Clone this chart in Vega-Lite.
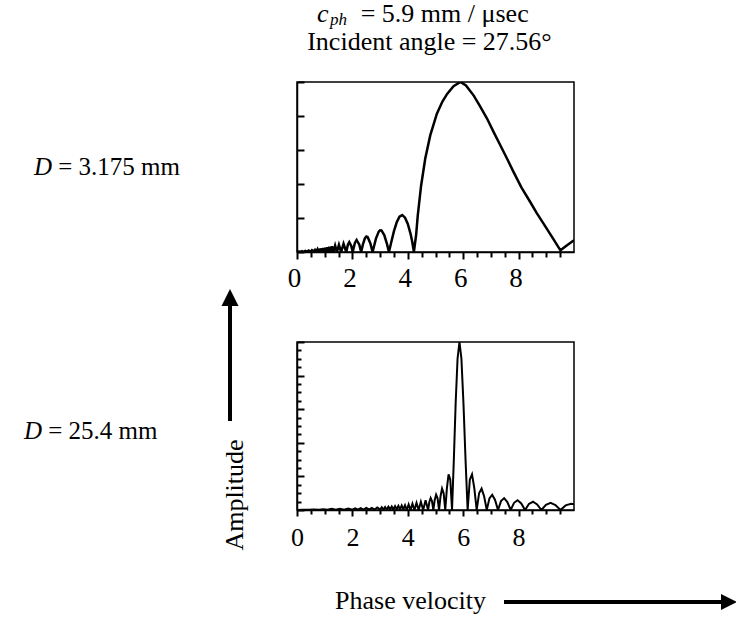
{
  "$schema": "https://vega.github.io/schema/vega-lite/v6.json",
  "padding": {"left": 23, "top": 0, "right": 0, "bottom": 0},
  "autosize": {"type": "pad"},
  "spacing": 90,
  "bounds": "flush",
  "config": {
    "font": "Liberation Serif",
    "view": {"stroke": "black", "strokeWidth": 1.5},
    "axis": {"domainColor": "black", "domainWidth": 1.5, "tickColor": "black", "tickWidth": 2, "grid": false, "labelFont": "Liberation Serif", "labelColor": "black"}
  },
  "vconcat": [
    {
      "width": 277,
      "height": 170,
      "resolve": {"axis": {"x": "independent", "y": "independent"}},
      "layer": [
        {
          "data": {"values": [
            {"v":0,"a":0},{"v":0.06,"a":0.003},{"v":0.12,"a":0.001},{"v":0.18,"a":0.005},{"v":0.24,"a":0.001},{"v":0.3,"a":0.007},{"v":0.36,"a":0.002},{"v":0.42,"a":0.009},{"v":0.48,"a":0.002},{"v":0.54,"a":0.011},{"v":0.6,"a":0.003},{"v":0.65,"a":0.013},{"v":0.7,"a":0.002},{"v":0.74,"a":0.016},{"v":0.78,"a":0.001},{"v":0.8,"a":0.019},{"v":0.822,"a":0},{"v":0.845,"a":0.0205},{"v":0.869,"a":0},{"v":0.894,"a":0.022},{"v":0.921,"a":0},{"v":0.95,"a":0.0236},{"v":0.98,"a":0},{"v":1.013,"a":0.0255},{"v":1.0475,"a":0},{"v":1.085,"a":0.0277},{"v":1.1245,"a":0},{"v":1.167,"a":0.0303},{"v":1.2136,"a":0},{"v":1.264,"a":0.0335},{"v":1.318,"a":0},{"v":1.377,"a":0.0374},{"v":1.4424,"a":0},{"v":1.514,"a":0.0424},{"v":1.5925,"a":0},{"v":1.68,"a":0.049},{"v":1.7775,"a":0},{"v":1.84,"a":0.0443},{"v":1.887,"a":0.0579},{"v":1.96,"a":0.0357},{"v":2.011,"a":0},{"v":2.09,"a":0.053},{"v":2.152,"a":0.0707},{"v":2.25,"a":0.0431},{"v":2.315,"a":0},{"v":2.38,"a":0.0446},{"v":2.45,"a":0.0796},{"v":2.505,"a":0.0909},{"v":2.55,"a":0.0885},{"v":2.65,"a":0.0499},{"v":2.728,"a":0},{"v":2.85,"a":0.0788},{"v":2.95,"a":0.1198},{"v":3.0,"a":0.1273},{"v":3.05,"a":0.1267},{"v":3.15,"a":0.0997},{"v":3.25,"a":0.0466},{"v":3.32,"a":0},{"v":3.4,"a":0.0563},{"v":3.5,"a":0.1227},{"v":3.6,"a":0.1749},{"v":3.7,"a":0.2078},{"v":3.8,"a":0.2169},{"v":3.9,"a":0.202},{"v":4.0,"a":0.1653},{"v":4.1,"a":0.1069},{"v":4.16,"a":0.06},{"v":4.22,"a":0},{"v":4.3,"a":0.1},{"v":4.36,"a":0.216},{"v":4.48,"a":0.39},{"v":4.63,"a":0.55},{"v":4.81,"a":0.686},{"v":5.05,"a":0.814},{"v":5.25,"a":0.885},{"v":5.42,"a":0.93},{"v":5.65,"a":0.975},{"v":5.9,"a":1.0},{"v":6.1,"a":0.98},{"v":6.38,"a":0.92},{"v":6.6,"a":0.86},{"v":6.86,"a":0.785},{"v":7.1,"a":0.705},{"v":7.34,"a":0.628},{"v":7.58,"a":0.55},{"v":7.82,"a":0.47},{"v":8.1,"a":0.38},{"v":8.42,"a":0.294},{"v":8.65,"a":0.23},{"v":8.9,"a":0.167},{"v":9.2,"a":0.09},{"v":9.51,"a":0.01},{"v":9.75,"a":0.04},{"v":10,"a":0.069}
          ]},
          "mark": {"type": "line", "color": "black", "strokeWidth": 2.5, "clip": true},
          "encoding": {
            "x": {"field": "v", "type": "quantitative", "scale": {"domain": [0, 10], "nice": false, "zero": false},
              "axis": {"title": null, "orient": "bottom", "values": [0,2,4,6,8], "ticks": true, "tickSize": 7, "tickColor": "black",
                "labelPadding": 6, "labelFontSize": 27, "labelOffset": -3, "labelOverlap": false, "labelFlush": false}},
            "y": {"field": "a", "type": "quantitative", "scale": {"domain": [0, 1], "nice": false},
              "axis": {"title": null, "orient": "left", "values": [0,0.2,0.4,0.6,0.8,1], "labels": false, "tickSize": -7}}
          }
        },
        {
          "data": {"values": []},
          "mark": {"type": "point", "opacity": 0},
          "encoding": {
            "x": {"field": "v", "type": "quantitative",
              "axis": {"title": null, "orient": "bottom", "values": [0.5,1,1.5,2.5,3,3.5,4.5,5,5.5,6.5,7,7.5,8.5,9,9.5], "ticks": true, "tickSize": 5, "tickColor": "black", "labels": false, "domain": false}},
            "y": {"field": "a", "type": "quantitative", "axis": null}
          }
        },
        {
          "data": {"values": [{}]},
          "mark": {"type": "text", "font": "Liberation Serif", "fontSize": 26, "fontStyle": "italic", "align": "left", "baseline": "top", "color": "black"},
          "encoding": {"x": {"datum": 0.72, "type": "quantitative", "axis": null}, "y": {"datum": 1.4765, "type": "quantitative", "axis": null}, "text": {"value": "c"}}
        },
        {
          "data": {"values": [{}]},
          "mark": {"type": "text", "font": "Liberation Serif", "fontSize": 17, "fontStyle": "italic", "align": "left", "baseline": "alphabetic", "color": "black"},
          "encoding": {"x": {"datum": 1.19, "type": "quantitative", "axis": null}, "y": {"datum": 1.338, "type": "quantitative", "axis": null}, "text": {"value": "ph"}}
        },
        {
          "data": {"values": [{}]},
          "mark": {"type": "text", "font": "Liberation Serif", "fontSize": 26, "align": "left", "baseline": "top", "color": "black"},
          "encoding": {"x": {"datum": 2.3, "type": "quantitative", "axis": null}, "y": {"datum": 1.4765, "type": "quantitative", "axis": null}, "text": {"value": "= 5.9 mm / μsec"}}
        },
        {
          "data": {"values": [{}]},
          "mark": {"type": "text", "font": "Liberation Serif", "fontSize": 26, "align": "center", "baseline": "alphabetic", "color": "black"},
          "encoding": {"x": {"datum": 4.783, "type": "quantitative", "axis": null}, "y": {"datum": 1.188, "type": "quantitative", "axis": null}, "text": {"value": "Incident angle = 27.56°"}}
        },
        {
          "data": {"values": [{}]},
          "mark": {"type": "text", "font": "Liberation Serif", "fontSize": 25, "fontStyle": "italic", "align": "left", "baseline": "alphabetic", "color": "black"},
          "encoding": {"x": {"datum": -9.495, "type": "quantitative", "axis": null}, "y": {"datum": 0.4512, "type": "quantitative", "axis": null}, "text": {"value": "D"}}
        },
        {
          "data": {"values": [{}]},
          "mark": {"type": "text", "font": "Liberation Serif", "fontSize": 25, "align": "left", "baseline": "alphabetic", "color": "black"},
          "encoding": {"x": {"datum": -8.619, "type": "quantitative", "axis": null}, "y": {"datum": 0.4512, "type": "quantitative", "axis": null}, "text": {"value": "= 3.175 mm"}}
        }
      ]
    },
    {
      "width": 277,
      "height": 168,
      "resolve": {"axis": {"x": "independent", "y": "independent"}},
      "layer": [
        {
          "data": {"values": [
            {"v":0,"a":0},{"v":0.2,"a":0.002},{"v":0.4,"a":0.001},{"v":0.6,"a":0.003},{"v":0.8,"a":0.001},{"v":0.95,"a":0.005},{"v":1.1,"a":0.001},{"v":1.25,"a":0.007},{"v":1.4,"a":0.002},{"v":1.55,"a":0.008},{"v":1.7,"a":0.002},{"v":1.85,"a":0.009},{"v":2.0,"a":0.002},{"v":2.1,"a":0.01},{"v":2.2,"a":0.002},{"v":2.3,"a":0.011},{"v":2.4,"a":0.002},{"v":2.5,"a":0.012},{"v":2.6,"a":0.003},{"v":2.7,"a":0.013},{"v":2.8,"a":0.003},{"v":2.9,"a":0.015},{"v":3.0,"a":0.003},{"v":3.06,"a":0.017},{"v":3.12,"a":0.003},{"v":3.18,"a":0.018},{"v":3.24,"a":0.003},{"v":3.3,"a":0.02},{"v":3.36,"a":0.004},{"v":3.42,"a":0.021},{"v":3.48,"a":0.003},{"v":3.54,"a":0.023},{"v":3.6,"a":0.004},{"v":3.66,"a":0.025},{"v":3.72,"a":0.003},{"v":3.78,"a":0.027},{"v":3.84,"a":0.004},{"v":3.9,"a":0.028},{"v":3.965,"a":0},{"v":4.03,"a":0.0335},{"v":4.098,"a":0},{"v":4.168,"a":0.0374},{"v":4.24,"a":0},{"v":4.314,"a":0.0424},{"v":4.392,"a":0},{"v":4.472,"a":0.049},{"v":4.555,"a":0},{"v":4.642,"a":0.0579},{"v":4.732,"a":0},{"v":4.778,"a":0.0474},{"v":4.825,"a":0.0707},{"v":4.873,"a":0.053},{"v":4.922,"a":0},{"v":4.972,"a":0.06},{"v":5.022,"a":0.0909},{"v":5.075,"a":0.0693},{"v":5.128,"a":0},{"v":5.182,"a":0.0818},{"v":5.237,"a":0.1273},{"v":5.294,"a":0.1},{"v":5.352,"a":0},{"v":5.411,"a":0.1286},{"v":5.472,"a":0.2122},{"v":5.534,"a":0.1801},{"v":5.597,"a":0},{"v":5.662,"a":0.3001},{"v":5.728,"a":0.6366},{"v":5.796,"a":0.9003},{"v":5.865,"a":1.0},{"v":5.936,"a":0.9003},{"v":6.009,"a":0.6366},{"v":6.084,"a":0.3001},{"v":6.16,"a":0},{"v":6.239,"a":0.1801},{"v":6.319,"a":0.2122},{"v":6.402,"a":0.1286},{"v":6.487,"a":0},{"v":6.574,"a":0.1},{"v":6.663,"a":0.1273},{"v":6.755,"a":0.0818},{"v":6.85,"a":0},{"v":6.947,"a":0.0693},{"v":7.047,"a":0.0909},{"v":7.15,"a":0.06},{"v":7.256,"a":0},{"v":7.365,"a":0.053},{"v":7.478,"a":0.0707},{"v":7.594,"a":0.0474},{"v":7.713,"a":0},{"v":7.836,"a":0.0429},{"v":7.964,"a":0.0579},{"v":8.096,"a":0.0391},{"v":8.232,"a":0},{"v":8.372,"a":0.036},{"v":8.519,"a":0.049},{"v":8.669,"a":0.0333},{"v":8.825,"a":0},{"v":8.987,"a":0.031},{"v":9.155,"a":0.0424},{"v":9.33,"a":0.029},{"v":9.511,"a":0},{"v":9.699,"a":0.0273},{"v":9.895,"a":0.0374},{"v":10,"a":0.034}
          ]},
          "mark": {"type": "line", "color": "black", "strokeWidth": 2, "clip": true},
          "encoding": {
            "x": {"field": "v", "type": "quantitative", "scale": {"domain": [0, 10], "nice": false, "zero": false},
              "axis": {"title": null, "orient": "bottom", "values": [0,2,4,6,8], "ticks": true, "tickSize": 6, "tickColor": "black",
                "labelPadding": 8, "labelFontSize": 26, "labelOverlap": false, "labelFlush": false}},
            "y": {"field": "a", "type": "quantitative", "scale": {"domain": [0, 1], "nice": false},
              "axis": {"title": null, "orient": "left", "values": [0,0.2,0.4,0.6,0.8,1], "labels": false, "tickSize": -7}}
          }
        },
        {
          "data": {"values": []},
          "mark": {"type": "point", "opacity": 0},
          "encoding": {
            "x": {"field": "v", "type": "quantitative",
              "axis": {"title": null, "orient": "bottom", "values": [0.5,1,1.5,2.5,3,3.5,4.5,5,5.5,6.5,7,7.5,8.5,9,9.5], "ticks": true, "tickSize": 4, "tickColor": "black", "labels": false, "domain": false}},
            "y": {"field": "a", "type": "quantitative",
              "axis": {"title": null, "orient": "left", "values": [0.05,0.1,0.15,0.25,0.3,0.35,0.45,0.5,0.55,0.65,0.7,0.75,0.85,0.9,0.95], "tickSize": -4, "labels": false, "domain": false}}
          }
        },
        {
          "data": {"values": [{}]},
          "mark": {"type": "text", "font": "Liberation Serif", "fontSize": 25, "fontStyle": "italic", "align": "left", "baseline": "alphabetic", "color": "black"},
          "encoding": {"x": {"datum": -9.856, "type": "quantitative", "axis": null}, "y": {"datum": 0.421, "type": "quantitative", "axis": null}, "text": {"value": "D"}}
        },
        {
          "data": {"values": [{}]},
          "mark": {"type": "text", "font": "Liberation Serif", "fontSize": 25, "align": "left", "baseline": "alphabetic", "color": "black"},
          "encoding": {"x": {"datum": -8.98, "type": "quantitative", "axis": null}, "y": {"datum": 0.421, "type": "quantitative", "axis": null}, "text": {"value": "= 25.4 mm"}}
        },
        {
          "data": {"values": [{}]},
          "mark": {"type": "text", "font": "Liberation Serif", "fontSize": 26, "align": "center", "baseline": "alphabetic", "angle": 270, "color": "black"},
          "encoding": {"x": {"datum": -1.949, "type": "quantitative", "axis": null}, "y": {"datum": 0.0893, "type": "quantitative", "axis": null}, "text": {"value": "Amplitude"}}
        },
        {
          "data": {"values": [{}]},
          "mark": {"type": "text", "font": "Liberation Serif", "fontSize": 26, "align": "center", "baseline": "alphabetic", "color": "black"},
          "encoding": {"x": {"datum": 4.097, "type": "quantitative", "axis": null}, "y": {"datum": -0.589, "type": "quantitative", "axis": null}, "text": {"value": "Phase velocity"}}
        },
        {
          "data": {"values": [{}]},
          "mark": {"type": "rule", "color": "black", "strokeWidth": 4},
          "encoding": {"x": {"datum": -2.419, "type": "quantitative", "axis": null}, "y": {"datum": 0.5298, "type": "quantitative", "axis": null}, "y2": {"datum": 1.2262}}
        },
        {
          "data": {"values": [{}]},
          "mark": {"type": "point", "shape": "M0,-1L1,1L-1,1Z", "size": 289, "filled": true, "color": "black", "opacity": 1},
          "encoding": {"x": {"datum": -2.419, "type": "quantitative", "axis": null}, "y": {"datum": 1.2649, "type": "quantitative", "axis": null}}
        },
        {
          "data": {"values": [{}]},
          "mark": {"type": "rule", "color": "black", "strokeWidth": 4},
          "encoding": {"y": {"datum": -0.5476, "type": "quantitative", "axis": null}, "x": {"datum": 7.473, "type": "quantitative", "axis": null}, "x2": {"datum": 15.38}}
        },
        {
          "data": {"values": [{}]},
          "mark": {"type": "point", "shape": "M1,0L-1,-1L-1,1Z", "size": 256, "filled": true, "color": "black", "opacity": 1},
          "encoding": {"x": {"datum": 15.596, "type": "quantitative", "axis": null}, "y": {"datum": -0.5476, "type": "quantitative", "axis": null}}
        }
      ]
    }
  ]
}
